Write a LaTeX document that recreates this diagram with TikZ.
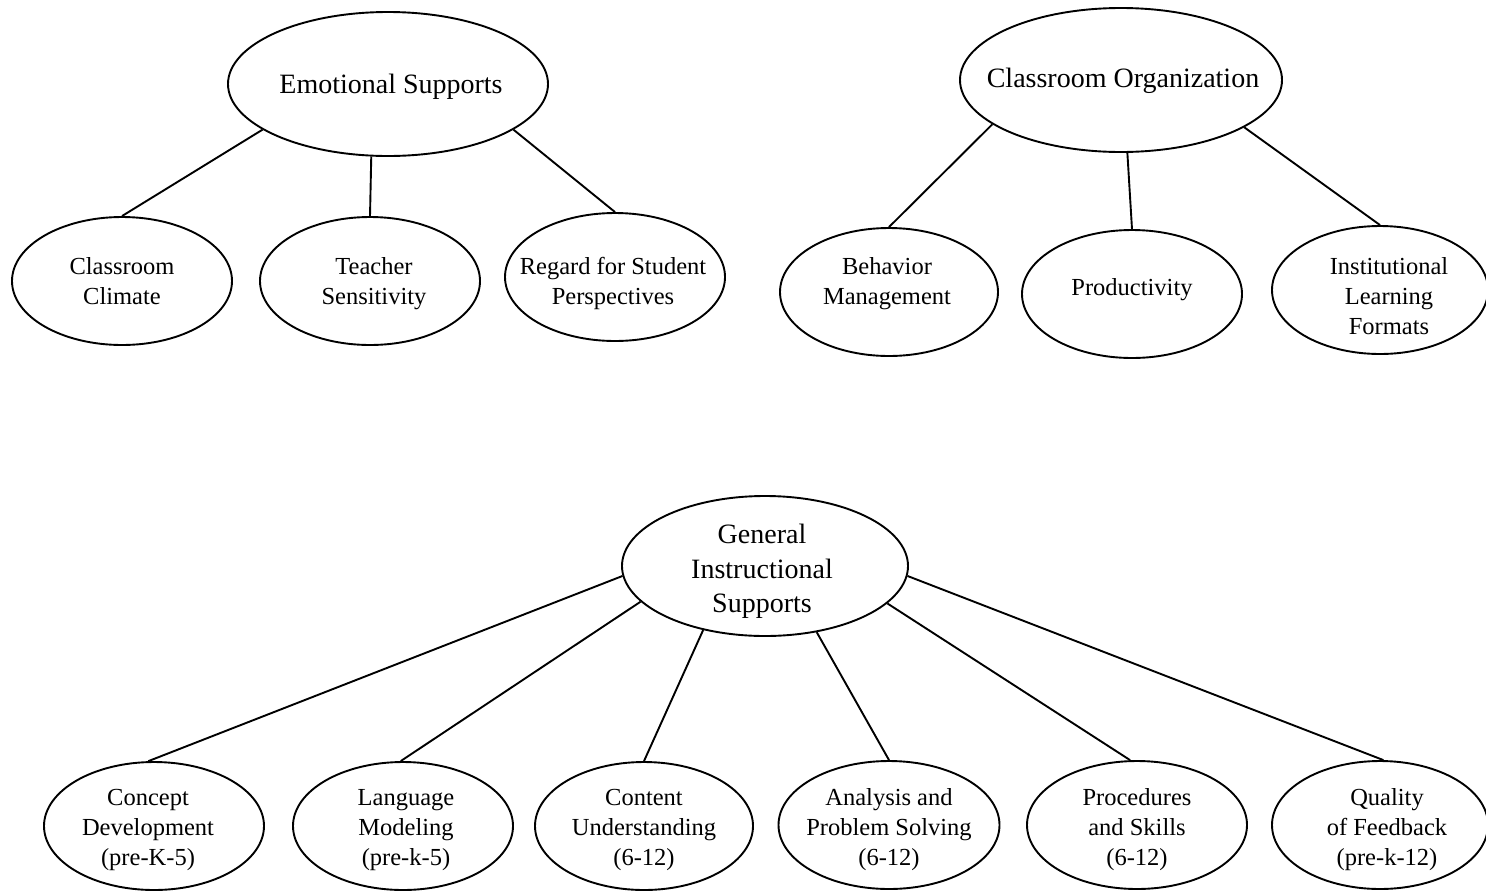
\documentclass[tikz,border=0pt]{standalone}
\usepackage{fontspec}
\setmainfont{Liberation Serif}
\usetikzlibrary{shapes.geometric}
\begin{document}
\begin{tikzpicture}[x=1pt,y=-1pt,
  oval/.style={ellipse,draw,line width=1.9pt,inner sep=0pt},
  subbox/.style={oval,minimum width=220pt,minimum height=128pt},
  topbox/.style={oval},
  sublbl/.style={align=center,inner sep=0pt,font=\fontsize{24.5}{30}\selectfont},
  toplbl/.style={align=center,inner sep=0pt,font=\fontsize{28}{34.5}\selectfont},
  link/.style={line width=1.9pt}]
\useasboundingbox (0,0) rectangle (1486,892);
\fill[white] (0,0) rectangle (1486,892);
% top-level ellipses
\node[topbox,minimum width=320pt,minimum height=144pt] (es) at (388,84) {};
\node[topbox,minimum width=322pt,minimum height=144pt] (co) at (1121,80) {};
\node[topbox,minimum width=286pt,minimum height=140pt] (gis) at (765,566) {};
% emotional supports children
\node[subbox] (cc) at (122,281) {};
\node[subbox] (ts) at (370,281) {};
\node[subbox] (rsp) at (615,277) {};
% classroom organization children
\node[subbox,minimum width=218pt] (bm) at (889,292) {};
\node[subbox] (pr) at (1132,294) {};
\node[subbox,minimum width=216pt] (ilf) at (1380,290) {};
% instructional supports children
\node[subbox] (cd) at (154,826) {};
\node[subbox] (lm) at (403,826) {};
\node[subbox,minimum width=218pt] (cu) at (644,826) {};
\node[subbox,minimum width=221pt] (aps) at (889,825) {};
\node[subbox] (pas) at (1137,825) {};
\node[subbox,minimum width=216pt] (qf) at (1380,825) {};
% labels
\node[toplbl] (es-t) at (391,87) {Emotional Supports};
\node[toplbl] (co-t) at (1123,81) {Classroom Organization};
\node[toplbl] (gis-t) at (762,571.5) {General\\Instructional\\Supports};
\node[sublbl] (cc-t) at (122,281) {Classroom\\Climate};
\node[sublbl] (ts-t) at (374,284) {Teacher\\Sensitivity};
\node[sublbl] (rsp-t) at (613,283) {Regard for Student\\Perspectives};
\node[sublbl] (bm-t) at (887,284) {Behavior\\Management};
\node[sublbl] (pr-t) at (1132,290) {Productivity};
\node[sublbl] (ilf-t) at (1389,296) {Institutional\\Learning\\Formats};
\node[sublbl] (cd-t) at (148,830) {Concept\\Development\\(pre-K-5)};
\node[sublbl] (lm-t) at (406,830) {Language\\Modeling\\(pre-k-5)};
\node[sublbl] (cu-t) at (644,830) {Content\\Understanding\\(6-12)};
\node[sublbl] (aps-t) at (889,830) {Analysis and\\Problem Solving\\(6-12)};
\node[sublbl] (pas-t) at (1137,830) {Procedures\\and Skills\\(6-12)};
\node[sublbl] (qf-t) at (1387,830) {Quality\\of Feedback\\(pre-k-12)};
% connectors
\draw[link] (es.200) -- (cc.north);
\draw[link] (es.257) -- (ts.north);
\draw[link] (es.340) -- (rsp.north);
\draw[link] (co.199) -- (bm.north);
\draw[link] (co.275) -- (pr.north);
\draw[link] (co.339) -- (ilf.north);
\draw[link] (gis.184) -- (cd.95.4);
\draw[link] (gis.196) -- (lm.92.7);
\draw[link] (gis.226) -- (cu.north);
\draw[link] (gis.308) -- (aps.north);
\draw[link] (gis.343) -- (pas.96.3);
\draw[link] (gis.356) -- (qf.87.3);
\end{tikzpicture}
\end{document}
